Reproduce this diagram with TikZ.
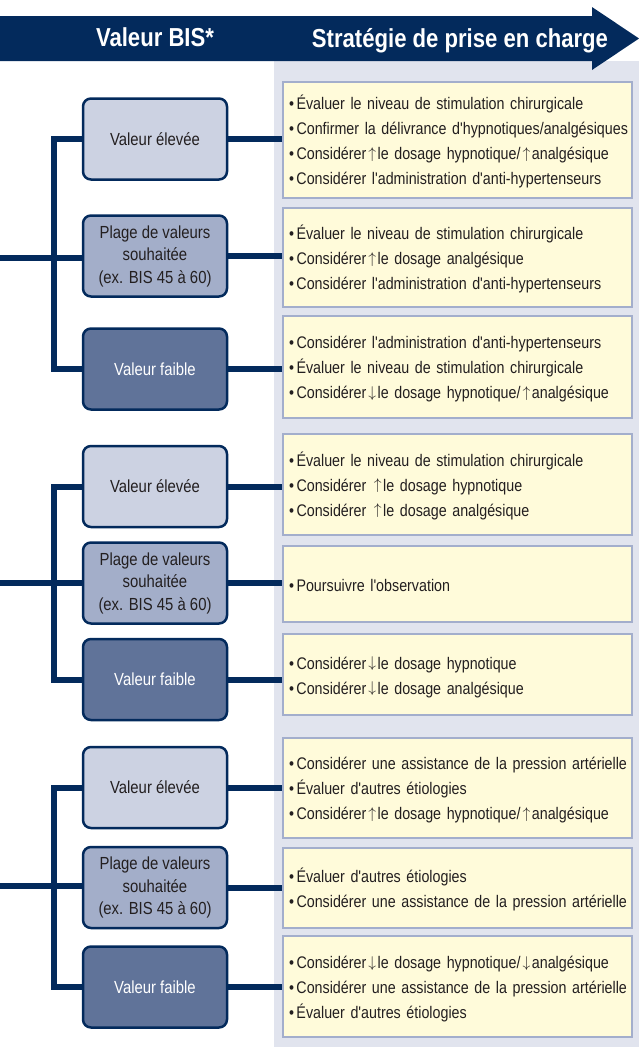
\documentclass[tikz,border=0pt]{standalone}
\usepackage{fontspec}
\setmainfont{Liberation Sans}[FakeStretch=0.85,Ligatures=TeXOff]
\usetikzlibrary{positioning, calc}
\definecolor{navy}{RGB}{3,42,92}
\definecolor{panel}{RGB}{225,228,238}
\definecolor{jaune}{RGB}{255,251,218}
\definecolor{cadre}{RGB}{163,174,204}
\definecolor{eleve}{RGB}{204,210,226}
\definecolor{plage}{RGB}{163,174,201}
\definecolor{faible}{RGB}{96,115,153}
\definecolor{txt}{RGB}{35,31,32}
\newcommand{\puce}{\textbullet\kern2.5pt}
\newcommand{\hausse}{\kern2pt\raisebox{1.2pt}{\scalebox{0.9}{$\uparrow$}}\kern1.5pt}
\newcommand{\baisse}{\kern2pt\raisebox{1.2pt}{\scalebox{0.9}{$\downarrow$}}\kern1.5pt}
\newcommand{\lignes}[1]{\raisebox{-2pt}[\height][\depth]{\begin{tabular}{@{}l@{}}#1\end{tabular}}}

\begin{document}
\begin{tikzpicture}[x=1pt,y=-1pt,line join=miter]
	\def \valx{155}
	\def \stratx{457.5}
	\def \trunk{54}
	\tikzstyle{val}=[draw=navy,line width=2.5pt,rounded corners=8pt,minimum width=144pt,minimum height=81pt,align=center,font=\fontsize{17.5}{22.5}\selectfont,text=txt]
	\tikzstyle{e-node}=[val,fill=eleve]
	\tikzstyle{s-node}=[val,fill=plage]
	\tikzstyle{f-node}=[val,fill=faible,text=white]
	\tikzstyle{strat}=[draw=cadre,line width=2pt,fill=jaune,minimum width=349pt,text width=337pt,inner xsep=6pt,align=left,font=\fontsize{16.8}{25}\selectfont,text=txt]
	\tikzstyle{head}=[text=white,font=\bfseries\fontsize{26}{26}\selectfont,anchor=base]
	\tikzstyle{link}=[draw=navy,line width=6pt]
	\useasboundingbox (0,0) rectangle (639,1047);

	% background of the strategy column
	\fill[panel] (274,61) rectangle (639,1047);

	% header arrow
	\fill[navy] (0,16) -- (592,16) -- (592,7) -- (639,38.5) -- (592,70) -- (592,61) -- (0,61) -- cycle;
	\node[head] (hbis)   at (155,46) {Valeur BIS*};
	\node[head] (hstrat) at (460,47) {Stratégie de prise en charge};

	% BIS values
	\node[e-node] (e1) at (\valx,139)   {Valeur élevée};
	\node[s-node] (s1) at (\valx,256)   {Plage de valeurs\\souhaitée\\(ex. BIS 45 à 60)};
	\node[f-node] (f1) at (\valx,369)   {Valeur faible};
	\node[e-node] (e2) at (\valx,486.5) {Valeur élevée};
	\node[s-node] (s2) at (\valx,583)   {Plage de valeurs\\souhaitée\\(ex. BIS 45 à 60)};
	\node[f-node] (f2) at (\valx,679.5) {Valeur faible};
	\node[e-node] (e3) at (\valx,787.5) {Valeur élevée};
	\node[s-node] (s3) at (\valx,887.5) {Plage de valeurs\\souhaitée\\(ex. BIS 45 à 60)};
	\node[f-node] (f3) at (\valx,987)   {Valeur faible};

	% strategies
	\node[strat,minimum height=116pt] (st1) at (\stratx,140) {\lignes{\puce Évaluer le niveau de stimulation chirurgicale\\
		\puce Confirmer la délivrance d'hypnotiques/analgésiques\\
		\puce Considérer\hausse le dosage hypnotique/\hausse analgésique\\
		\puce Considérer l'administration d'anti-hypertenseurs}};
	\node[strat,minimum height=99pt] (st2) at (\stratx,257.5) {\lignes{\puce Évaluer le niveau de stimulation chirurgicale\\
		\puce Considérer\hausse le dosage analgésique\\
		\puce Considérer l'administration d'anti-hypertenseurs}};
	\node[strat,minimum height=102pt] (st3) at (\stratx,366.5) {\lignes{\puce Considérer l'administration d'anti-hypertenseurs\\
		\puce Évaluer le niveau de stimulation chirurgicale\\
		\puce Considérer\baisse le dosage hypnotique/\hausse analgésique}};
	\node[strat,minimum height=101pt] (st4) at (\stratx,484) {\lignes{\puce Évaluer le niveau de stimulation chirurgicale\\
		\puce Considérer \hausse le dosage hypnotique\\
		\puce Considérer \hausse le dosage analgésique}};
	\node[strat,minimum height=76pt] (st5) at (\stratx,584) {\lignes{\puce Poursuivre l'observation}};
	\node[strat,minimum height=81pt] (st6) at (\stratx,674.5) {\lignes{\puce Considérer\baisse le dosage hypnotique\\
		\puce Considérer\baisse le dosage analgésique}};
	\node[strat,minimum height=100pt] (st7) at (\stratx,787.5) {\lignes{\puce Considérer une assistance de la pression artérielle\\
		\puce Évaluer d'autres étiologies\\
		\puce Considérer\hausse le dosage hypnotique/\hausse analgésique}};
	\node[strat,minimum height=80pt] (st8) at (\stratx,887.5) {\lignes{\puce Évaluer d'autres étiologies\\
		\puce Considérer une assistance de la pression artérielle}};
	\node[strat,minimum height=101pt] (st9) at (\stratx,986.5) {\lignes{\puce Considérer\baisse le dosage hypnotique/\baisse analgésique\\
		\puce Considérer une assistance de la pression artérielle\\
		\puce Évaluer d'autres étiologies}};

	% trees
	\coordinate (r1) at (0,258);
	\coordinate (r2) at (0,583);
	\coordinate (r3) at (0,886);
	\coordinate (t1) at (\trunk,258);
	\coordinate (t2) at (\trunk,583);
	\coordinate (t3) at (\trunk,886);
	\draw[link] (e1.west) -| (t1) |- (f1.west);
	\draw[link] (e2.west) -| (t2) |- (f2.west);
	\draw[link] (e3.west) -| (t3) |- (f3.west);
	\draw[link] (r1) -- (r1 -| s1.west);
	\draw[link] (r2) -- (r2 -| s2.west);
	\draw[link] (r3) -- (r3 -| s3.west);

	% to the strategies
	\draw[link] (e1.east) -- (e1.east -| st1.west);
	\draw[link] (s1.east) -- (s1.east -| st2.west);
	\draw[link] (f1.east) -- (f1.east -| st3.west);
	\draw[link] (e2.east) -- (e2.east -| st4.west);
	\draw[link] (s2.east) -- (s2.east -| st5.west);
	\draw[link] (f2.east) -- (f2.east -| st6.west);
	\draw[link] (e3.east) -- (e3.east -| st7.west);
	\draw[link] (s3.east) -- (s3.east -| st8.west);
	\draw[link] (f3.east) -- (f3.east -| st9.west);
\end{tikzpicture}
\end{document}
